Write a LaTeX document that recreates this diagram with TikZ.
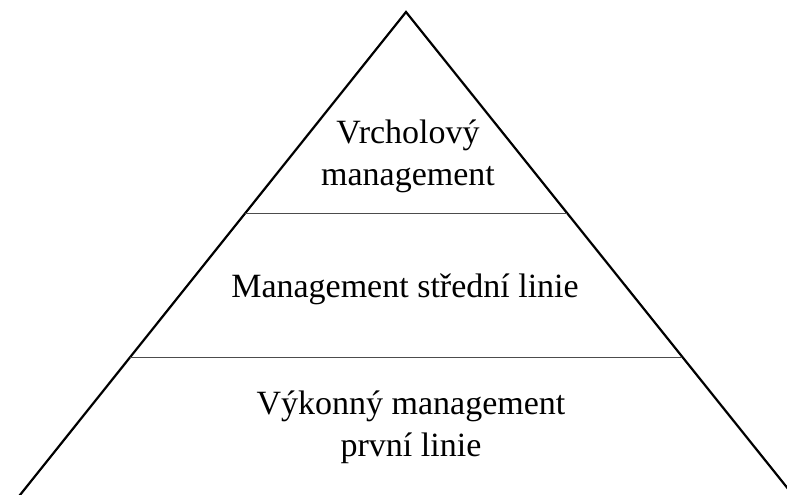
\documentclass[tikz,border=0pt]{standalone}
\usepackage{fontspec}
\setmainfont{Liberation Serif}
\usetikzlibrary{calc}
\tikzset{
  side/.style={line width=2.2pt, black, line join=miter},
  divider/.style={line width=1pt, black!70},
  lbl/.style={align=center, font=\fontsize{34}{41.5}\selectfont, inner sep=0pt, anchor=base}
}
\begin{document}
\begin{tikzpicture}[x=1pt,y=-1pt]
\useasboundingbox (0,0) rectangle (787,495);
\clip (0,0) rectangle (787,495);
\coordinate (A) at (406,12);
\coordinate (L) at (16,500);
\coordinate (R) at (797,500);
\draw[side] (L) -- (A) -- (R);
\coordinate (d1l) at ($(A)!0.4119!(L)$);
\coordinate (d1r) at ($(A)!0.4119!(R)$);
\coordinate (d2l) at ($(A)!0.7070!(L)$);
\coordinate (d2r) at ($(A)!0.7070!(R)$);
\draw[divider] (d1l) -- (d1r);
\draw[divider] (d2l) -- (d2r);
\node[lbl] (top) at (408,185) {Vrcholový\\management};
\node[lbl] (mid) at (405,297) {Management střední linie};
\node[lbl] (bot) at (411,456) {Výkonný management\\první linie};
\end{tikzpicture}
\end{document}
